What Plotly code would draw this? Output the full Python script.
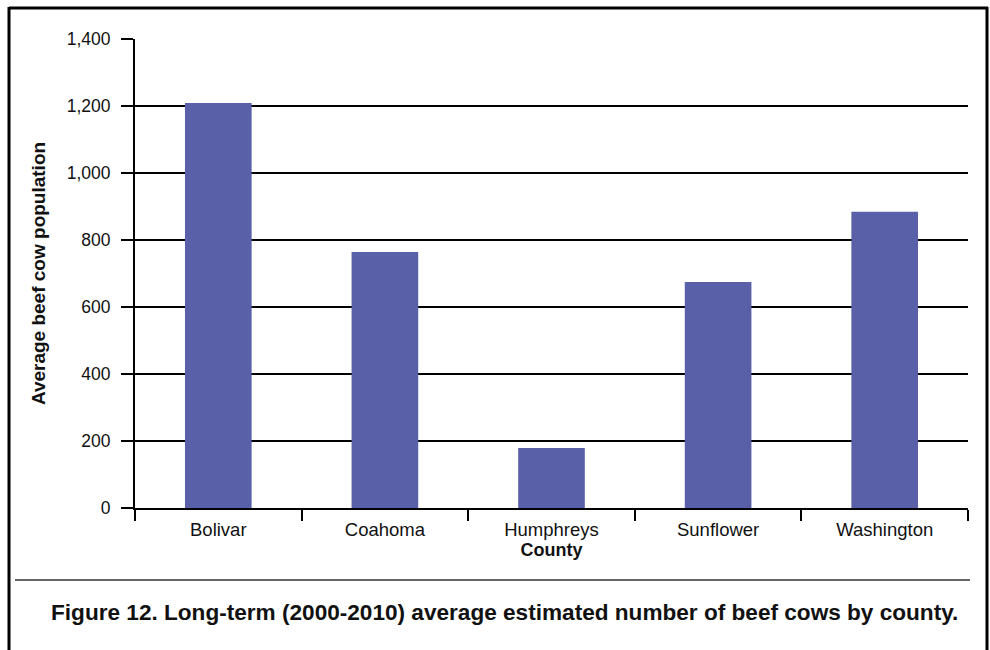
import plotly.graph_objects as go

counties = ["Bolivar", "Coahoma", "Humphreys", "Sunflower", "Washington"]
avg_beef_cows = [1209, 764, 179, 675, 884]
y_ticks = [0, 200, 400, 600, 800, 1000, 1200, 1400]

caption = "Figure 12. Long-term (2000-2010) average estimated number of beef cows by county."

W, H = 990, 650
L, R, T, B = 135, 22, 39, 142
pw, ph = W - L - R, H - T - B


def px_x(p):
    return (p - L) / pw


def px_y(p):
    return (H - B - p) / ph


fig = go.Figure(
    go.Bar(
        x=counties,
        y=avg_beef_cows,
        marker=dict(color="#5A60A8", line=dict(width=0)),
        width=0.4,
    )
)

font = "Liberation Sans, Arial, Helvetica, sans-serif"

fig.update_layout(
    width=W,
    height=H,
    margin=dict(l=L, r=R, t=T, b=B),
    paper_bgcolor="white",
    plot_bgcolor="white",
    font=dict(family=font, size=17, color="#111"),
    showlegend=False,
    xaxis=dict(
        type="category",
        range=[-0.5, 4.5],
        showline=True,
        linecolor="black",
        linewidth=2,
        ticks="outside",
        tickson="boundaries",
        ticklen=11,
        tickwidth=2,
        tickcolor="black",
        showgrid=False,
        ticklabelstandoff=4,
        title=dict(text="<b>County</b>", font=dict(size=18), standoff=4),
        tickfont=dict(size=18.5),
    ),
    yaxis=dict(
        range=[0, 1400],
        tickvals=y_ticks,
        tickformat=",",
        showline=True,
        linecolor="black",
        linewidth=2,
        ticks="outside",
        ticklen=12,
        tickwidth=2,
        tickcolor="black",
        showgrid=True,
        gridcolor="black",
        gridwidth=2,
        zeroline=False,
        ticklabelstandoff=7,
        title=dict(text="<b>Average beef cow population</b>", font=dict(size=19), standoff=16),
        tickfont=dict(size=17.5),
    ),
    shapes=[
        # outer frame: left, top, right
        dict(type="line", xref="paper", yref="paper", x0=px_x(9), x1=px_x(9), y0=px_y(7), y1=px_y(652),
             line=dict(color="black", width=3)),
        dict(type="line", xref="paper", yref="paper", x0=px_x(9), x1=px_x(988), y0=px_y(8), y1=px_y(8),
             line=dict(color="black", width=3)),
        dict(type="line", xref="paper", yref="paper", x0=px_x(987), x1=px_x(987), y0=px_y(7), y1=px_y(652),
             line=dict(color="black", width=3)),
        # caption separator
        dict(type="line", xref="paper", yref="paper", x0=px_x(15), x1=px_x(970), y0=px_y(580), y1=px_y(580),
             line=dict(color="#333", width=1.5)),
    ],
    annotations=[
        dict(text="<b>" + caption + "</b>", xref="paper", yref="paper", x=px_x(504), y=px_y(612),
             showarrow=False, xanchor="center", yanchor="middle",
             font=dict(family=font, size=22.6, color="#111")),
    ],
)

fig.write_html("out.html")
